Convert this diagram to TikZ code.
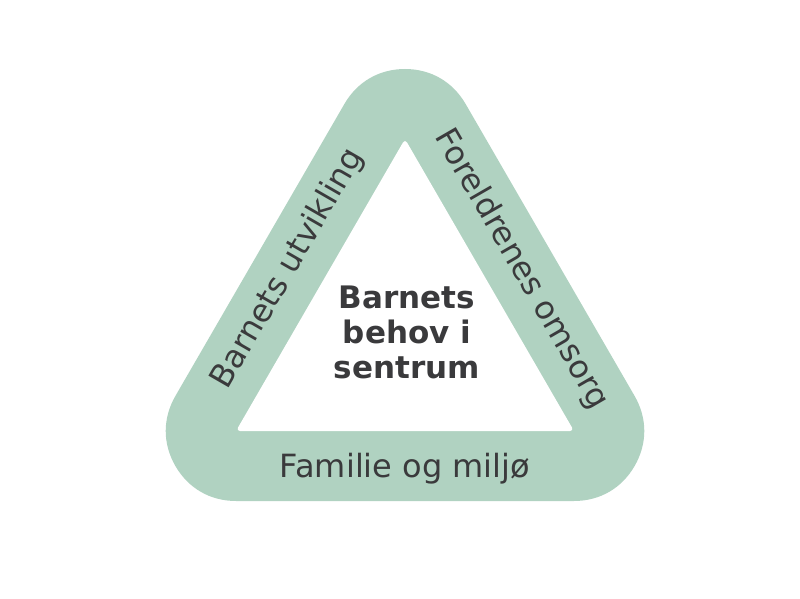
\documentclass[tikz,border=0pt]{standalone}
\usepackage{fontspec}
\setmainfont{DejaVu Sans}
\definecolor{bandgreen}{RGB}{176,210,193}
\definecolor{textgrey}{RGB}{58,58,60}
\tikzset{
  band/.style={draw=bandgreen, fill=bandgreen, line width=140pt, line join=round},
  hole/.style={fill=white, rounded corners=4pt},
  sidetext/.style={text=textgrey, font=\fontsize{32}{38}\selectfont, inner sep=0pt},
  hubtext/.style={text=textgrey, font=\fontsize{31}{35}\selectfont\bfseries, align=center, inner sep=0pt}
}

\begin{document}
\begin{tikzpicture}[x=1pt,y=-1pt]
\useasboundingbox (0,0) rectangle (800,599);
\coordinate (top) at (405,139);
\coordinate (left) at (236,431);
\coordinate (right) at (574,431);
\draw[band] (top) -- (left) -- (right) -- cycle;
\fill[hole] (top) -- (left) -- (right) -- cycle;
\node[hubtext] (hub) at (407,332) {Barnets\\behov i\\sentrum};
\node[sidetext, rotate=60] (growth) at (288,269) {Barnets utvikling};
\node[sidetext, rotate=-60] (care) at (521,269) {Foreldrenes omsorg};
\node[sidetext, anchor=base] (family) at (405,477) {Familie og miljø};
\end{tikzpicture}
\end{document}
